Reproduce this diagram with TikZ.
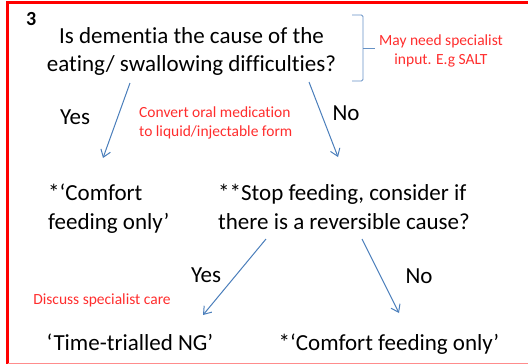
\documentclass[tikz,border=0pt]{standalone}
\usepackage{fontspec}
\setmainfont{Carlito}[Ligatures=NoCommon]
\usetikzlibrary{arrows.meta}
\definecolor{lineblue}{RGB}{74,126,187}
\definecolor{notered}{RGB}{255,45,45}
\begin{document}
\begin{tikzpicture}[x=1pt,y=-1pt,>={Straight Barb[length=7pt,width=10pt]},
    txt/.style={font=\fontsize{23}{28.5}\selectfont,inner sep=0pt},
    note/.style={text=notered,font=\fontsize{15.5}{19}\selectfont,inner sep=0pt},
    arr/.style={->,draw=lineblue,line width=1pt}]
  \useasboundingbox (0,0) rectangle (528,364);
  % Rahmen
  \draw[red,line width=3.5pt] (7.5,366) -- (7.5,2.5) -- (530,2.5);
  \draw[red!45,line width=1.2pt] (7.5,363.6) -- (530,363.6);

  \node[anchor=base west,inner sep=0pt,font=\bfseries\fontsize{20}{22}\selectfont] (num) at (26,25) {3};

  % Frage
  \node[txt,anchor=north,align=center] (q1) at (191.5,27) {Is dementia the cause of the\\eating/ swallowing difficulties?};
  \draw[lineblue!85,line width=0.9pt,rounded corners=1.5pt] (352,15) -| (363,81) -- (352,81);
  \draw[lineblue!85,line width=0.9pt] (363,48) -- (375,48);
  \node[note,anchor=north,align=center] (note1) at (441,35) {May need specialist\\input. E.g SALT};

  \node[txt,anchor=base] (yes1) at (75,124) {Yes};
  \node[txt,anchor=base] (no1) at (346,120) {No};
  \node[note,anchor=north west,align=left] (conv) at (139,107) {Convert oral medication\\to liquid/injectable form};

  % zweite Ebene
  \node[txt,anchor=north west,align=left] (comfort1) at (48,184) {*‘Comfort\\feeding only’};
  \node[txt,anchor=north west,align=left] (stop) at (218,184) {**Stop feeding, consider if\\there is a reversible cause?};

  \draw[arr] ([shift={(-61.5,56)}]q1.north) -- ([shift={(55,-26)}]comfort1.north west);
  \draw[arr] ([shift={(117.5,55)}]q1.north) -- ([shift={(120,-27)}]stop.north west);

  \node[txt,anchor=base] (yes2) at (206,282) {Yes};
  \node[txt,anchor=base] (no2) at (419,283) {No};
  \node[note,anchor=base] (discuss) at (102,304) {Discuss specialist care};

  % Ergebnis
  \node[txt,anchor=base] (ng) at (130,350) {‘Time-trialled NG’};
  \node[txt,anchor=base] (comfort2) at (389,350) {*‘Comfort feeding only’};

  \draw[arr] ([shift={(48,55)}]stop.north west) -- ([shift={(73,-35)}]ng.base);
  \draw[arr] ([shift={(144,55)}]stop.north west) -- ([shift={(10,-37)}]comfort2.base);
\end{tikzpicture}
\end{document}
